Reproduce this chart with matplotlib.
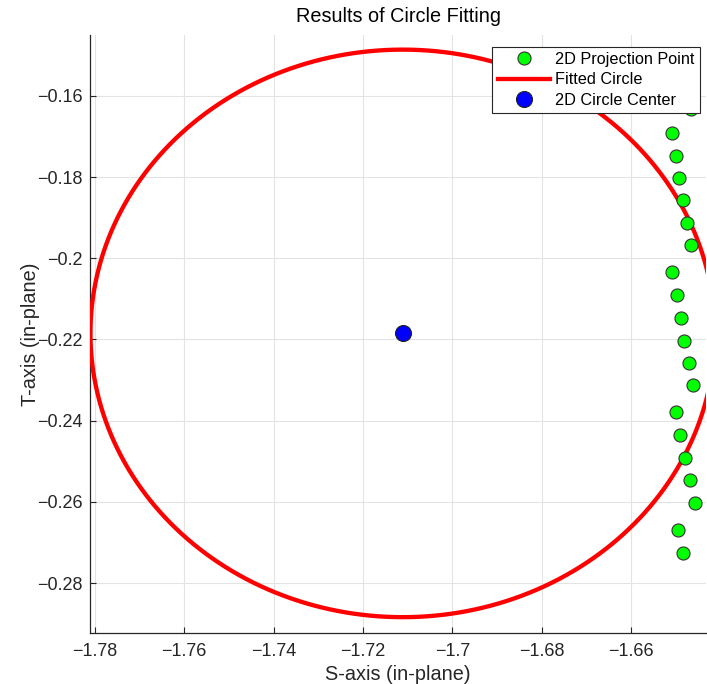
import numpy as np
import matplotlib
matplotlib.use("Agg")
import matplotlib.pyplot as plt
from matplotlib.ticker import FixedLocator, FuncFormatter

plt.rcParams['font.family'] = ['Liberation Sans', 'DejaVu Sans']

# Projected points in the fitting plane (S, T)
proj_s = [-1.6466, -1.6508, -1.6500, -1.6493, -1.6484, -1.6475, -1.6466,
          -1.6508, -1.6498, -1.6489, -1.6481, -1.6470, -1.6461,
          -1.6499, -1.6490, -1.6479, -1.6468, -1.6457,
          -1.6495, -1.6484]
proj_t = [-0.1633, -0.1691, -0.1748, -0.1802, -0.1857, -0.1914, -0.1968,
          -0.2034, -0.2091, -0.2147, -0.2204, -0.2257, -0.2313,
          -0.2379, -0.2435, -0.2493, -0.2547, -0.2604,
          -0.2670, -0.2727]

# Fitted circle parameters
center_s = -1.7111
center_t = -0.2185
radius = 0.0699

x_ticks = [-1.78, -1.76, -1.74, -1.72, -1.70, -1.68, -1.66]
y_ticks = [-0.28, -0.26, -0.24, -0.22, -0.20, -0.18, -0.16]

dark = '#262626'

fig = plt.figure(figsize=(7.07, 6.84), dpi=100)
ax = fig.add_axes([90 / 707, 51 / 684, 616 / 707, 598 / 684])

theta = np.linspace(0, 2 * np.pi, 721)
circ_s = center_s + radius * np.cos(theta)
circ_t = center_t + radius * np.sin(theta)

h_pts, = ax.plot(proj_s, proj_t, linestyle='none', marker='o', markersize=9.4,
                 markerfacecolor='#00ff00', markeredgecolor='#333333',
                 markeredgewidth=0.8, zorder=4, label='2D Projection Point')
h_circ, = ax.plot(circ_s, circ_t, color='#ff0000', linewidth=3.1, zorder=3,
                  label='Fitted Circle')
h_cen, = ax.plot([center_s], [center_t], linestyle='none', marker='o',
                 markersize=11.5, markerfacecolor='#0000ff',
                 markeredgecolor='#222222', markeredgewidth=0.8, zorder=5,
                 label='2D Circle Center')

ax.set_xlim(-1.7811, -1.6432)
ax.set_ylim(-0.2923, -0.1450)

fmt = FuncFormatter(lambda v, p: ('{:g}'.format(round(v, 4))).replace('-', '\u2212'))
ax.xaxis.set_major_locator(FixedLocator(x_ticks))
ax.yaxis.set_major_locator(FixedLocator(y_ticks))
ax.xaxis.set_major_formatter(fmt)
ax.yaxis.set_major_formatter(fmt)

ax.grid(True, color='#e3e3e3', linewidth=0.8)
ax.set_axisbelow(True)
for side in ('top', 'right'):
    ax.spines[side].set_visible(False)
for side in ('left', 'bottom'):
    ax.spines[side].set_color(dark)
    ax.spines[side].set_linewidth(0.9)

ax.tick_params(direction='in', length=4, width=0.8, color=dark,
               labelcolor=dark, labelsize=13)
ax.tick_params(axis='x', pad=7)
ax.tick_params(axis='y', pad=5)

ax.set_title('Results of Circle Fitting', fontsize=14.3, color='#000000', pad=9)
ax.set_xlabel('S-axis (in-plane)', fontsize=14.3, color=dark, labelpad=4)
ax.set_ylabel('T-axis (in-plane)', fontsize=14.3, color=dark, labelpad=-2)

leg = ax.legend(handles=[h_pts, h_circ, h_cen], loc='upper right',
                bbox_to_anchor=(0.990, 0.980), fontsize=11.7, frameon=True,
                fancybox=False, framealpha=1, edgecolor=dark,
                handlelength=3.2, handletextpad=0.35, labelspacing=0.32,
                borderpad=0.32, borderaxespad=0)
leg.get_frame().set_linewidth(0.8)
leg.set_zorder(10)

fig.savefig('out.png', dpi=100)
